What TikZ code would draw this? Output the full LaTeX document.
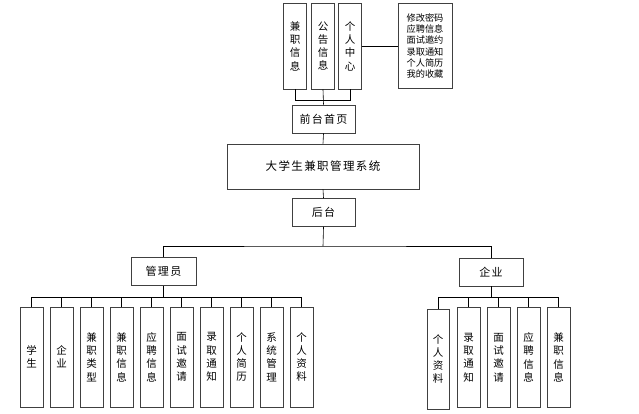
\documentclass[tikz,border=0pt]{standalone}
\usepackage{fontspec}
\newfontfamily\cjk{Noto Sans CJK SC}
\newfontfamily\cjkw[LetterSpace=12]{Noto Sans CJK SC}
\begin{document}
\begin{tikzpicture}[x=1pt,y=-1pt,semithick,
  box/.style={draw=black!75,line width=0.9pt,inner sep=0pt,align=center,
    font=\cjk\fontsize{10.5}{13.3}\selectfont},
  vbox/.style={box,minimum width=23pt,minimum height=100pt},
  hbox/.style={box,minimum width=63pt,minimum height=28pt,
    font=\cjkw\fontsize{11}{13}\selectfont}]
\useasboundingbox (0,0) rectangle (639,413);
% front end
\node[box,minimum width=23pt,minimum height=86pt] (jzxx) at (295,46) {兼\\职\\信\\息};
\node[box,minimum width=23pt,minimum height=86pt] (ggxx) at (323,46) {公\\告\\信\\息};
\node[box,minimum width=23pt,minimum height=86pt] (grzx) at (350,46) {个\\人\\中\\心};
\node[box,minimum width=54pt,minimum height=85pt,font=\cjk\fontsize{9.2}{11.2}\selectfont]
  (grzxnr) at (425,46) {修改密码\\应聘信息\\面试邀约\\录取通知\\个人简历\\我的收藏};
\node[hbox] (qtsy) at (323.5,119) {前台首页};
\node[box,minimum width=192pt,minimum height=45pt,font=\cjkw\fontsize{11.5}{13}\selectfont]
  (xt) at (323,166.5) {大学生兼职管理系统};
\node[hbox] (ht) at (323.5,212.5) {后台};
\draw (jzxx.south) -- ++(0,11) -| (grzx.south);
\draw (ggxx.south) -- (qtsy.north);
\draw (grzx.east) -- (grzxnr.west);
\draw (qtsy.south) -- (xt.north);
\draw (xt.south) -- (ht.north);
% back end
\node[hbox,minimum width=65pt] (gly) at (163.5,271.5) {管理员};
\node[hbox,minimum width=64pt] (qy) at (491,272) {企业};
\coordinate (hj) at (323,246);
\draw (ht.south) -- (hj);
\draw (gly.north) |- (hj) -| (qy.north);
% administrator
\foreach \t [count=\i] in {学\\生,企\\业,兼\\职\\类\\型,兼\\职\\信\\息,应\\聘\\信\\息,
  面\\试\\邀\\请,录\\取\\通\\知,个\\人\\简\\历,系\\统\\管\\理,个\\人\\资\\料}
  \node[vbox] (a\i) at ({31.5+30*(\i-1)},357) {\t};
\draw (gly.south) -- ++(0,11) coordinate (aj);
\draw (a1.north) |- (aj) -| (a10.north);
\foreach \i in {2,...,9}
  \draw (a\i.north) -- (a\i.north |- aj);
% enterprise
\node[vbox,minimum width=22pt] (e1) at (438,359) {个\\人\\资\\料};
\foreach \t [count=\i from 2] in {录\\取\\通\\知,面\\试\\邀\\请,应\\聘\\信\\息,兼\\职\\信\\息}
  \node[vbox] (e\i) at ({468.5+30*(\i-2)},357.5) {\t};
\draw (qy.south) -- ++(0,11) coordinate (ej);
\draw (e1.north) |- (ej) -| (e5.north);
\foreach \i in {2,...,4}
  \draw (e\i.north) -- (e\i.north |- ej);
\end{tikzpicture}
\end{document}
